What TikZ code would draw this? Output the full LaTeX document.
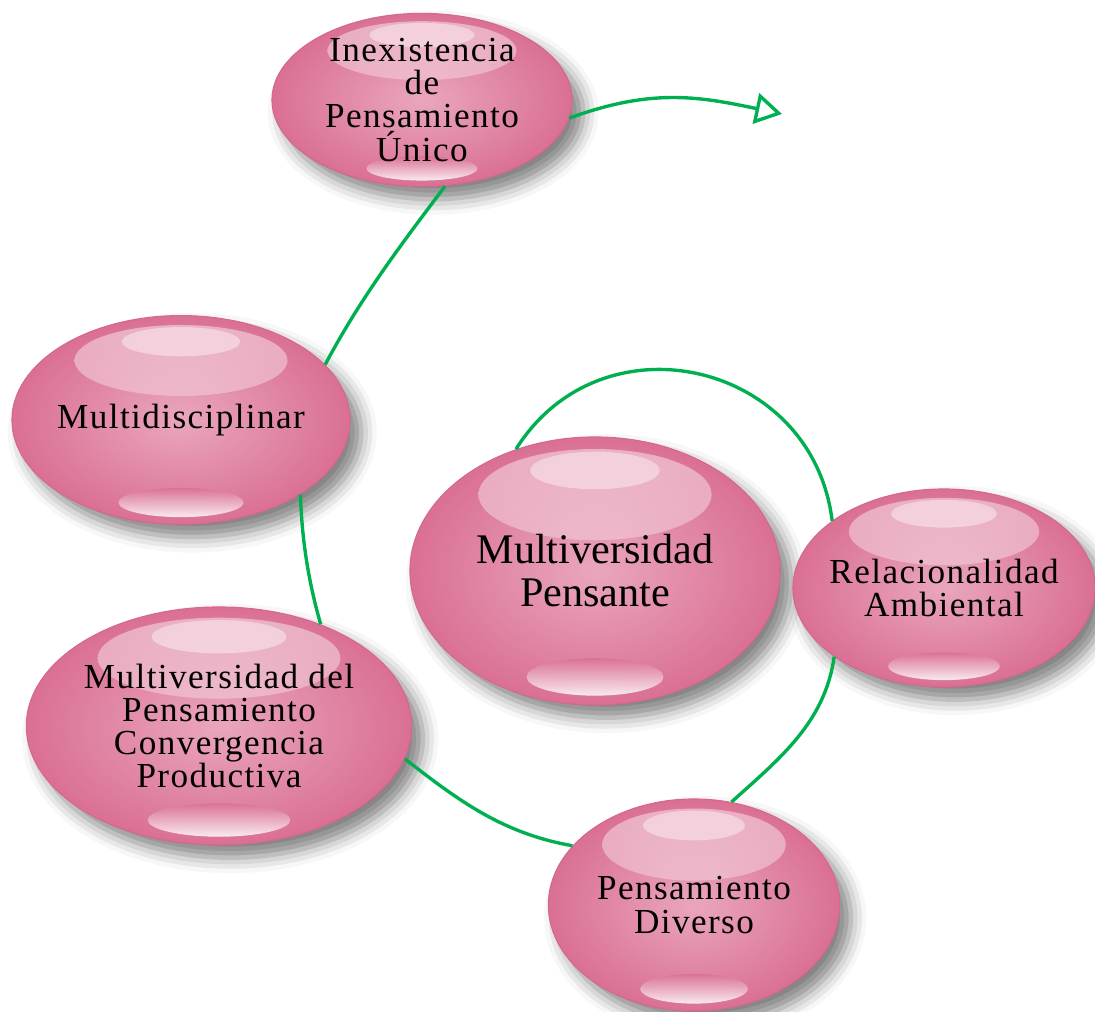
\documentclass[tikz,border=0pt]{standalone}
\usepackage{fontspec}
\setmainfont{Liberation Serif}
\newfontfamily\bubblefont[LetterSpace=4]{Liberation Serif}
\usetikzlibrary{arrows.meta,shapes.geometric,shadows.blur}
\definecolor{bubbleedge}{RGB}{212,104,141}
\definecolor{bubbleout}{RGB}{218,112,148}
\definecolor{bubblein}{RGB}{234,166,190}
\definecolor{linkgreen}{RGB}{0,176,80}
\tikzset{
  bubble/.style 2 args={ellipse, minimum width=#1, minimum height=#2, inner sep=-1cm,
    draw=bubbleedge, line width=0.8pt, shade, inner color=bubblein, outer color=bubbleout,
    blur shadow={shadow xshift=8pt, shadow yshift=-9pt, shadow blur radius=11pt, shadow opacity=50},
    text=black, align=center, font=\bubblefont\fontsize{25}{23.5}\selectfont,
    path picture={
      \shade[top color=white, bottom color=bubblein, fill opacity=.45]
        ([yshift=.285*#2]path picture bounding box.center) ellipse [x radius=.315*#1, y radius=.17*#2];
      \fill[white, fill opacity=.4]
        ([yshift=.375*#2]path picture bounding box.center) ellipse [x radius=.175*#1, y radius=.07*#2];
      \shade[top color=bubbleout, bottom color=white, fill opacity=.85]
        ([yshift=-.395*#2]path picture bounding box.center) ellipse [x radius=.185*#1, y radius=.07*#2];
    }}
}
\tikzstyle{link} = [linkgreen, line width=2.4pt]

\begin{document}
\begin{tikzpicture}[x=0.025cm, y=0.025cm]
  \useasboundingbox (0,0) rectangle (1095,-1011);

  \node[bubble={7.5cm}{4.33cm}] (ie) at (422,-100) {Inexistencia\\de\\Pensamiento\\Único};
  \node[bubble={8.45cm}{5.22cm}] (md) at (181,-420) {Multidisciplinar};
  \node[bubble={9.25cm}{6.7cm}, font=\rmfamily\fontsize{30}{30.5}\selectfont] (mp) at (595,-571) {Multiversidad\\Pensante};
  \node[bubble={7.55cm}{4.95cm}] (rel) at (944,-588) {Relacionalidad\\Ambiental};
  \node[bubble={9.63cm}{5.95cm}] (mvp) at (219,-726) {Multiversidad del\\Pensamiento\\Convergencia\\Productiva};
  \node[bubble={7.28cm}{5.3cm}] (pd) at (694,-905) {Pensamiento\\Diverso};
  \coordinate (tip) at (782,-114);

  % spiral from the centre outwards
  \path[link] (mp.123) edge[out=58,in=97,looseness=1.27] (rel.149);
  \path[link] (rel.212) edge[out=262,in=42,looseness=0.95] (pd.70);
  \path[link] (pd.154) edge[out=170,in=322,looseness=0.95] (mvp.-10);
  \path[link] (mvp.45) edge[out=106,in=272,looseness=0.88] (md.-32);
  \path[link] (md.21) edge[out=62,in=233,looseness=0.9] (ie.-75);
  \path[link,-{Triangle[open,length=19pt,width=22pt]}] (ie.-7) edge[out=20,in=168,looseness=1.04] (tip);
\end{tikzpicture}
\end{document}
